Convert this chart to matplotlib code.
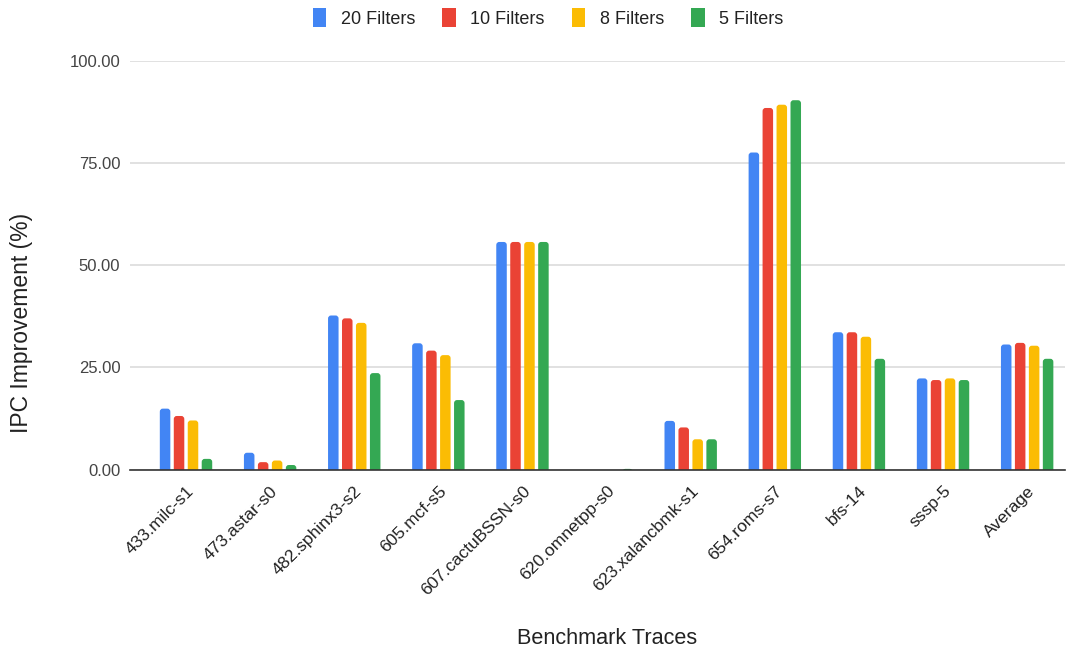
import numpy as np
import matplotlib.pyplot as plt
from matplotlib.patches import FancyBboxPatch

plt.rcParams['font.family'] = ['Liberation Sans', 'DejaVu Sans']

traces = ['433.milc-s1', '473.astar-s0', '482.sphinx3-s2', '605.mcf-s5',
          '607.cactuBSSN-s0', '620.omnetpp-s0', '623.xalancbmk-s1',
          '654.roms-s7', 'bfs-14', 'sssp-5', 'Average']
series_names = ['20 Filters', '10 Filters', '8 Filters', '5 Filters']
f20 = [14.9, 4.1, 37.7, 30.9, 55.7, 0.0, 11.9, 77.6, 33.6, 22.3, 30.6]
f10 = [13.1, 1.8, 37.0, 29.1, 55.7, 0.0, 10.3, 88.5, 33.6, 21.9, 31.0]
f8 = [12.0, 2.2, 35.9, 28.0, 55.7, 0.0, 7.4, 89.3, 32.5, 22.3, 30.3]
f5 = [2.6, 1.1, 23.6, 17.0, 55.7, 0.15, 7.4, 90.4, 27.1, 21.9, 27.1]
colors = ['#4285F4', '#EA4335', '#FBBC04', '#34A853']

fig = plt.figure(figsize=(10.75, 6.48), dpi=100)
ax = fig.add_axes([130 / 1075, 1 - 469.5 / 648, 935 / 1075, 408.5 / 648])

x = np.arange(len(traces))
pitch = 0.166
width = 0.125
ax.set_xlim(-0.666, 10.45)
ax.set_ylim(0, 100)

# corner radius of the rounded bar tops, in data units
r_x = 0.035
r_y = 0.75
aspect = r_y / r_x

for i, (vals, col, name) in enumerate(zip([f20, f10, f8, f5], colors, series_names)):
    offs = (i - 1.5) * pitch
    for xi, v in zip(x, vals):
        if v <= 0:
            continue
        # start below zero so only the top corners show
        p = FancyBboxPatch((xi + offs - width / 2, -r_y),
                           width, v + r_y,
                           boxstyle="round,pad=0,rounding_size=%f" % r_x,
                           mutation_aspect=aspect, fc=col, ec='none',
                           zorder=3, clip_on=True)
        ax.add_patch(p)
    ax.bar([0], [0], color=col, label=name)

ax.set_yticks([0, 25, 50, 75, 100])
ax.set_yticklabels(['%.2f' % t for t in [0, 25, 50, 75, 100]],
                   fontsize=12, color='#444444')
ax.yaxis.grid(True, color='#dcdcdc', lw=1.2, zorder=0)
ax.set_axisbelow(True)
ax.tick_params(length=0, pad=7)
for s in ['top', 'right', 'left']:
    ax.spines[s].set_visible(False)
ax.spines['bottom'].set_color('#333333')
ax.spines['bottom'].set_linewidth(1.2)
ax.spines['bottom'].set_zorder(4)

ax.set_xticks(x)
ax.set_xticklabels(traces, rotation=45, ha='right', va='top',
                   rotation_mode='anchor', fontsize=12.6, color='#222222')
ax.tick_params(axis='x', pad=10)

fig.text(607 / 1075, 1 - 638 / 648, 'Benchmark Traces', ha='center',
         va='center', fontsize=15.6, color='#222222')
fig.text(22 / 1075, 1 - 323 / 648, 'IPC Improvement (%)', ha='center',
         va='center', rotation=90, fontsize=16.5, color='#222222')

leg = fig.legend(loc='center', bbox_to_anchor=(548 / 1075, 1 - 18 / 648),
                 ncol=4, frameon=False, fontsize=13, handlelength=0.75,
                 handleheight=1.2, handletextpad=0.8, columnspacing=1.5)
for t in leg.get_texts():
    t.set_color('#222222')

fig.savefig('out.png', dpi=100, facecolor='white')
